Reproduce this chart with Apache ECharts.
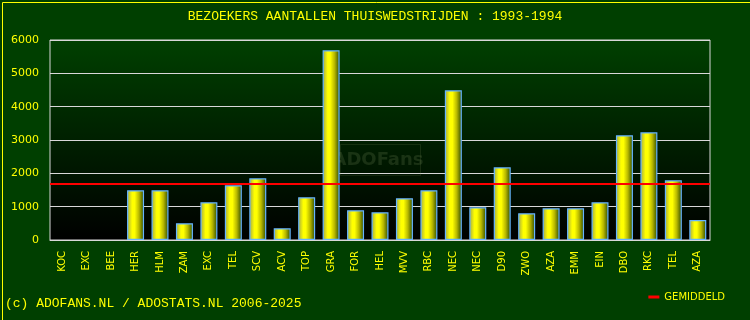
<!DOCTYPE html>
<html><head><meta charset="utf-8">
<script src="https://cdn.jsdelivr.net/npm/echarts@6/dist/echarts.min.js"></script>
<style>html,body{margin:0;padding:0;background:#003f00;}#c{width:750px;height:320px;}</style>
</head><body><div id="c"></div>
<script>
const categories = ['KOC','EXC','BEE','HER','HLM','ZAM','EXC','TEL','SCV','ACV','TOP','GRA','FOR','HEL','MVV','RBC','NEC','NEC','D90','ZWO','AZA','EMM','EIN','DBO','RKC','TEL','AZA'];
const visitors = [null,null,null,1490,1490,500,1130,1640,1850,350,1280,5690,890,830,1250,1490,4490,980,2180,800,950,950,1130,3140,3230,1790,600];
const average = 1680;
const yTicks = [0,1000,2000,3000,4000,5000,6000];
const titleText = 'BEZOEKERS AANTALLEN THUISWEDSTRIJDEN : 1993-1994';
const footerText = '(c) ADOFANS.NL / ADOSTATS.NL 2006-2025';
const legendName = 'GEMIDDELD';

const chart = echarts.init(document.getElementById('c'), null, {renderer:'canvas'});
const yellow = '#ffff00';
chart.setOption({
  backgroundColor: '#003f00',
  animation: false,
  grid: {left: 50, right: 40, top: 40, bottom: 80, show: true,
    backgroundColor: new echarts.graphic.LinearGradient(0,0,0,1,[{offset:0,color:'#004000'},{offset:1,color:'#000000'}]),
    borderColor: '#d8d8d8', borderWidth: 1},
  legend: {right: 20, top: 287, itemWidth: 11, itemHeight: 3, itemGap: 9,
    textStyle: {color: yellow, fontFamily: 'DejaVu Sans', fontSize: 10},
    data: [{name: legendName, icon: 'rect', itemStyle: {color: '#ff0000'}}]},
  xAxis: {type: 'category', data: categories,
    axisLine: {lineStyle: {color: '#d8d8d8'}}, axisTick: {show: false},
    axisLabel: {rotate: 90, color: yellow, fontFamily: 'DejaVu Sans', fontSize: 10, margin: 11, interval: 0}},
  yAxis: {type: 'value', min: yTicks[0], max: yTicks[yTicks.length-1], interval: 1000,
    axisLine: {show: false}, axisTick: {show: false},
    splitLine: {lineStyle: {color: '#d8d8d8', width: 1}},
    axisLabel: {color: yellow, fontFamily: 'DejaVu Sans', fontSize: 11, margin: 11, formatter: v => String(v)}},
  series: [
    {type: 'bar', name: 'bezoekers', data: visitors, barWidth: 17,
      itemStyle: {borderColor: '#66b4ff', borderWidth: 1.2,
        color: new echarts.graphic.LinearGradient(0,0,1,0,[
          {offset:0,color:'#a0a848'},{offset:0.3,color:'#ffff00'},{offset:0.45,color:'#ffff00'},{offset:0.7,color:'#b8b800'},{offset:1,color:'#2a4800'}])}},
    {type: 'line', name: legendName, data: [], itemStyle: {color: '#ff0000'}, lineStyle: {color: '#ff0000'},
      markLine: {silent: true, symbol: 'none', label: {show: false},
        lineStyle: {color: '#ff0000', width: 2, type: 'solid'}, data: [{yAxis: average}]}}
  ],
  graphic: [
    {type: 'rect', left: 0, top: 0, shape: {x: 0.5, y: 0.5, width: 749, height: 319}, style: {fill: 'none', stroke: yellow, lineWidth: 1}, z: 100},
    {type: 'text', x: 375, y: 17, style: {text: titleText, fill: yellow, font: '13px "Liberation Mono"', textAlign: 'center', textVerticalAlign: 'middle'}},
    {type: 'text', x: 5, y: 304, style: {text: footerText, fill: yellow, font: '13px "Liberation Mono"', textAlign: 'left', textVerticalAlign: 'middle'}},
    {type: 'rect', shape: {x: 340.5, y: 144.5, width: 80, height: 31}, style: {fill: 'none', stroke: 'rgba(120,140,90,0.18)', lineWidth: 1}, z: 1},
    {type: 'text', x: 378, y: 160, style: {text: 'ADOFans', fill: 'rgba(120,140,90,0.22)', font: 'bold 18px "DejaVu Sans"', textAlign: 'center', textVerticalAlign: 'middle'}, z: 1}
  ]
});
</script></body></html>
